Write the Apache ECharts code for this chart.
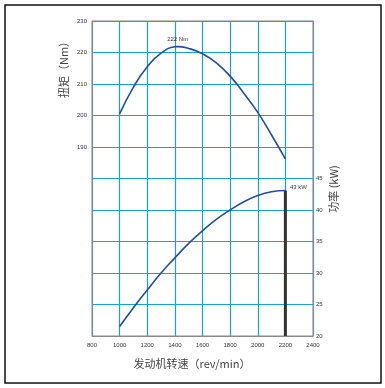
<!DOCTYPE html>
<html><head><meta charset="utf-8">
<script src="https://cdn.jsdelivr.net/npm/echarts@6/dist/echarts.min.js"></script>
<style>html,body{margin:0;padding:0;background:#fff}#c{width:385px;height:388px}</style>
</head><body><div id="c"></div>
<script>
var rpm = [1000,1100,1200,1300,1400,1420,1500,1600,1700,1800,1900,2000,2100,2200];
var torque = [200.5,209,215.5,219.8,221.8,221.85,221.3,219.6,216.7,212.5,207,201,193.8,186.2];
var rpmP = [1000,1100,1200,1300,1400,1500,1600,1700,1800,1900,2000,2100,2200];
var power = [21.5,24.5,27.3,30,32.4,34.7,36.7,38.5,40,41.3,42.3,42.9,43.1];
var xTicks = [800,1000,1200,1400,1600,1800,2000,2200,2400];
var torqueLabels = [190,200,210,220,230];
var powerLabels = [20,25,30,35,40,45];
var peakTorqueLabel = '222 Nm';
var maxPowerLabel = '43 kW';
var ratedRpm = 2200;
var peakIdx = 5;

var blue = '#14a2e2';
var curve = '#1f4f9e';
var font = 'Liberation Sans, Arial, sans-serif';
var chart = echarts.init(document.getElementById('c'));
var tData = rpm.map(function(x,i){ return [x,torque[i]]; });
var pData = rpmP.map(function(x,i){ return [x,power[i]]; });
var lastP = power.length-1;
chart.setOption({
  animation:false,
  grid:{left:92, right:72, top:21, bottom:52, show:true, borderColor:'#8a8a8a', borderWidth:1},
  xAxis:{type:'value', min:800, max:2400, interval:200,
    axisLine:{show:true, lineStyle:{color:'#8a8a8a', width:1}},
    axisTick:{show:false},
    axisLabel:{fontSize:6, color:'#333', margin:6, fontFamily:font,
      formatter:function(v){return xTicks.indexOf(v)>=0?String(v):'';}},
    splitLine:{show:true, lineStyle:{color:blue, width:1.2}}
  },
  yAxis:[
    {type:'value', min:130, max:230, interval:10, position:'left',
      axisLine:{show:true, lineStyle:{color:'#8a8a8a'}}, axisTick:{show:false},
      axisLabel:{fontSize:6, color:'#333', margin:5, fontFamily:font,
        formatter:function(v){return torqueLabels.indexOf(v)>=0?String(v):'';}},
      splitLine:{show:true, lineStyle:{color:blue, width:1.2}}},
    {type:'value', min:20, max:70, interval:5, position:'right',
      axisLine:{show:true, lineStyle:{color:'#8a8a8a'}}, axisTick:{show:false},
      axisLabel:{fontSize:6, color:'#333', margin:3, fontFamily:font,
        formatter:function(v){return powerLabels.indexOf(v)>=0?String(v):'';}},
      splitLine:{show:false}}
  ],
  series:[
    {type:'line', yAxisIndex:1, data:[[ratedRpm,20],[ratedRpm,power[lastP]]], symbol:'none',
      lineStyle:{color:'#333', width:3}, z:3},
    {type:'line', yAxisIndex:0, data:tData, smooth:true, symbol:'none',
      lineStyle:{color:curve, width:1.6}, z:4,
      markPoint:{symbol:'circle', symbolSize:1, itemStyle:{color:'rgba(0,0,0,0)'},
        label:{show:true, position:'top', distance:4, formatter:peakTorqueLabel, fontSize:6, color:'#333', fontFamily:font},
        data:[{coord:[rpm[peakIdx], torque[peakIdx]]}]}},
    {type:'line', yAxisIndex:1, data:pData, smooth:true, symbol:'none',
      lineStyle:{color:curve, width:1.6}, z:4,
      markPoint:{symbol:'circle', symbolSize:1, itemStyle:{color:'rgba(0,0,0,0)'},
        label:{show:true, position:'right', distance:4, offset:[0,-3], formatter:maxPowerLabel, fontSize:6, color:'#333', fontFamily:font},
        data:[{coord:[rpmP[lastP], power[lastP]]}]}}
  ],
  graphic:[
    {type:'rect', shape:{x:5, y:5, width:376, height:378}, style:{fill:'none', stroke:'#111', lineWidth:1.5}, silent:true},
    {type:'text', x:64, y:67, rotation:Math.PI/2, style:{text:'扭矩（Nm）', fontSize:11, fill:'#444', align:'center', verticalAlign:'middle', fontFamily:'Noto Sans CJK SC'}},
    {type:'text', x:334, y:189, rotation:Math.PI/2, style:{text:'功率 (kW)', fontSize:11, fill:'#444', align:'center', verticalAlign:'middle', fontFamily:'Noto Sans CJK SC'}},
    {type:'text', x:192, y:364, style:{text:'发动机转速（rev/min）', fontSize:11, fill:'#444', align:'center', verticalAlign:'middle', fontFamily:'Noto Sans CJK SC'}}
  ]
});
</script></body></html>
